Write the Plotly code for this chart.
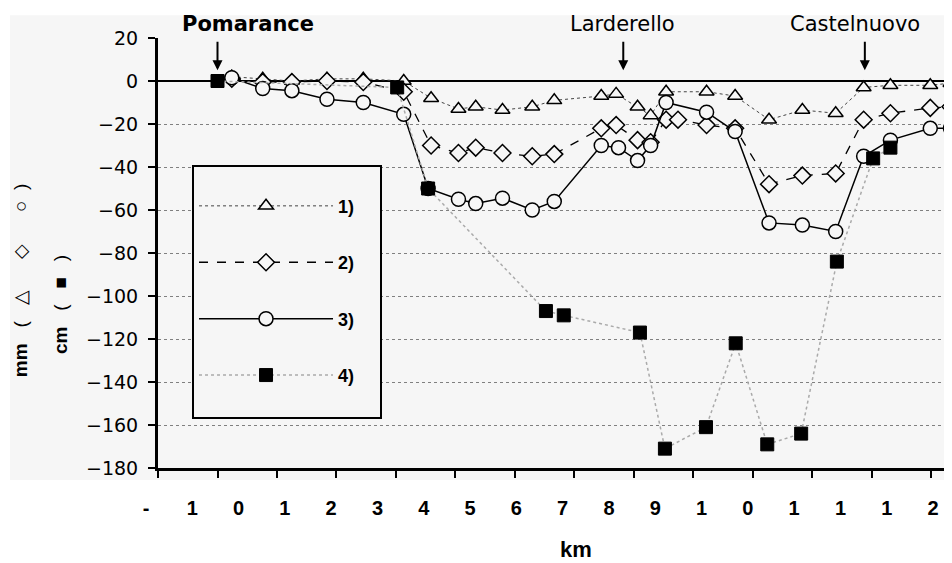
import plotly.graph_objects as go

# levelling differences along the line (km along line, mm / cm)
km_1 = [0.24, 0.76, 1.25, 1.84, 2.45, 3.13, 3.59, 4.05, 4.34, 4.79, 5.29, 5.66, 6.45, 6.70,
        7.06, 7.28, 7.54, 8.22, 8.70, 9.27, 9.83, 10.39, 10.86, 11.31, 11.98, 12.32]
val_1 = [2, 1, 0, 1, 1, 0, -8, -13, -12, -13.5, -12, -9, -7, -6,
         -12, -16, -5, -5, -7, -18, -13.5, -15, -3, -2, -2, -1]

km_2 = [0.24, 0.76, 1.25, 1.84, 2.45, 3.13, 3.59, 4.05, 4.34, 4.79, 5.29, 5.66, 6.45, 6.70,
        7.06, 7.28, 7.54, 7.74, 8.22, 8.70, 9.27, 9.83, 10.39, 10.86, 11.31, 11.98, 12.32]
val_2 = [1, -0.5, -0.5, 0, -0.5, -5, -30, -33.5, -31, -33.5, -35, -34, -22, -20.5,
         -27.5, -28.5, -18, -18, -20.5, -22, -48, -44, -43, -18, -15, -12.5, -12]

km_3 = [0.24, 0.76, 1.25, 1.84, 2.45, 3.13, 3.54, 4.05, 4.34, 4.79, 5.29, 5.66, 6.45, 6.74,
        7.06, 7.28, 7.54, 8.22, 8.70, 9.27, 9.83, 10.39, 10.86, 11.31, 11.98, 12.32]
val_3 = [1.5, -3.5, -4.5, -8.5, -10, -15.5, -50, -55, -57, -54.5, -60, -56, -30, -31,
         -37, -30, -10, -14.5, -23.5, -66, -67, -70, -35, -27.5, -22, -22]

km_4 = [0.0, 3.02, 3.54, 5.52, 5.82, 7.10, 7.52, 8.21, 8.71, 9.24, 9.81, 10.41, 11.02, 11.31]
val_4 = [0, -3, -50, -107, -109, -117, -171, -161, -122, -169, -164, -84, -36, -31]

series_names = ["1)", "2)", "3)", "4)"]

# x tick marks (km) and the broken-up tick label characters printed under the axis
x_ticks = list(range(-1, 13))
x_chars = ["-", "1", "0", "1", "2", "3", "4", "5", "6", "7", "8", "9", "1", "0", "1", "1", "1", "2"]
y_ticks = list(range(20, -200, -20))

places = ["Pomarance", "Larderello", "Castelnuovo"]
place_km = [0.0, 6.82, 10.88]
label_km = [0.51, 6.80, 10.71]

BG = "#f6f6f6"
FONT = "Liberation Sans, Arial, sans-serif"
NB = "\u00a0"

fig = go.Figure()

styles = [
    dict(line=dict(color="#444444", width=1, dash="dot"),
         marker=dict(symbol="triangle-up", size=13, color=BG, line=dict(color="black", width=1.5))),
    dict(line=dict(color="black", width=1.3, dash="dash"),
         marker=dict(symbol="diamond", size=13, color=BG, line=dict(color="black", width=1.5))),
    dict(line=dict(color="black", width=1.5),
         marker=dict(symbol="circle", size=14, color=BG, line=dict(color="black", width=1.5))),
    dict(line=dict(color="#aaaaaa", width=1.5, dash="dot"),
         marker=dict(symbol="square", size=13, color="black", line=dict(color="black", width=1))),
]
for i, (xs, ys) in enumerate([(km_1, val_1), (km_2, val_2), (km_3, val_3), (km_4, val_4)]):
    label = series_names[i] + NB * 4
    if i == 3:
        label += "<br>" + NB
    fig.add_trace(go.Scatter(x=xs, y=ys, name=label, mode="lines+markers",
                             legendgroup=series_names[i], **styles[i]))

# empty trace that carries the character tick-label axis
fig.add_trace(go.Scatter(x=list(range(len(x_chars))), y=[None] * len(x_chars),
                         xaxis="x3", yaxis="y3", showlegend=False, hoverinfo="skip"))

fig.update_layout(
    width=944, height=555,
    margin=dict(l=52, r=0, t=30, b=95),
    paper_bgcolor="white", plot_bgcolor="rgba(0,0,0,0)",
    font=dict(family=FONT, color="black"),
    showlegend=True,
    legend=dict(x=0.148, y=0.705, xanchor="left", yanchor="top", valign="top",
                bgcolor=BG, bordercolor="black", borderwidth=2,
                font=dict(size=18, weight="bold"), itemwidth=134,
                tracegroupgap=30, title=dict(text=NB, font=dict(size=16))),
    xaxis=dict(domain=[(158 - 60) / 892, 1], range=[-1, 12.345], tickvals=x_ticks,
               showticklabels=False, ticks="outside", ticklen=7, tickwidth=2, tickcolor="black",
               showline=True, linewidth=3, linecolor="black", showgrid=False, zeroline=False),
    xaxis2=dict(overlaying="x", anchor="y", range=[-1, 12.345], tickvals=x_ticks,
                showticklabels=False, ticks="inside", ticklen=7, tickwidth=2, tickcolor="black",
                showline=False, showgrid=False, zeroline=False),
    xaxis3=dict(domain=[0, 1], anchor="y3", range=[-1.857, 17.409],
                tickvals=list(range(len(x_chars))), ticktext=x_chars,
                ticks="outside", ticklen=22, tickcolor="rgba(0,0,0,0)",
                tickfont=dict(size=20, weight="bold"),
                showline=False, showgrid=False, zeroline=False),
    yaxis=dict(range=[-180, 20], tickvals=y_ticks, ticks="outside", ticklen=7, tickwidth=2,
               tickcolor="black", tickfont=dict(size=19, family="DejaVu Sans"),
               ticklabelstandoff=6,
               showline=True, linewidth=3, linecolor="black",
               showgrid=True, gridcolor="#808080", griddash="dot", gridwidth=1,
               zeroline=True, zerolinecolor="black", zerolinewidth=2),
    yaxis2=dict(overlaying="y", anchor="x", side="left", range=[-180, 20], tickvals=y_ticks,
                showticklabels=False, ticks="inside", ticklen=7, tickwidth=2, tickcolor="black",
                showline=False, showgrid=False, zeroline=False),
    yaxis3=dict(domain=[0, 1], anchor="x3", range=[0, 1], visible=False),
)

# light grey paper area of the scanned figure
fig.add_shape(type="rect", xref="paper", yref="paper", x0=-0.056, x1=1.0, y0=-0.028, y1=1.053,
              fillcolor=BG, line=dict(width=0), layer="below")

for name, k, lk in zip(places, place_km, label_km):
    fig.add_annotation(x=k, y=5, xref="x", yref="y", text="", showarrow=True,
                       arrowhead=2, arrowsize=1, arrowwidth=2, arrowcolor="black",
                       ax=0, ay=-30, standoff=0)
    fig.add_annotation(x=lk, y=1.033, xref="x", yref="paper", text=name, showarrow=False,
                       xanchor="center", yanchor="middle",
                       font=dict(size=21, family="DejaVu Sans",
                                 weight="bold" if name == "Pomarance" else "normal"))

fig.add_annotation(x=-0.0448, y=0.437, xref="paper", yref="paper", textangle=-90, showarrow=False,
                   xanchor="center", yanchor="middle",
                   text="<b>mm</b>" + NB * 3 + "(" + NB * 3 + "\u25b3" + NB * 6 + "\u25c7"
                        + NB * 6 + "\u25cb" + NB * 2 + ")",
                   font=dict(size=19))
fig.add_annotation(x=0.0, y=0.379, xref="paper", yref="paper", textangle=-90, showarrow=False,
                   xanchor="center", yanchor="middle",
                   text="<b>cm</b>" + NB * 3 + "(" + NB * 3 + "\u25a0" + NB * 3 + ")",
                   font=dict(size=19))
fig.add_annotation(x=0.578, y=-0.19, xref="paper", yref="paper", showarrow=False,
                   xanchor="center", yanchor="middle",
                   text="<b>km</b>", font=dict(size=22))

fig.write_html("out.html")
